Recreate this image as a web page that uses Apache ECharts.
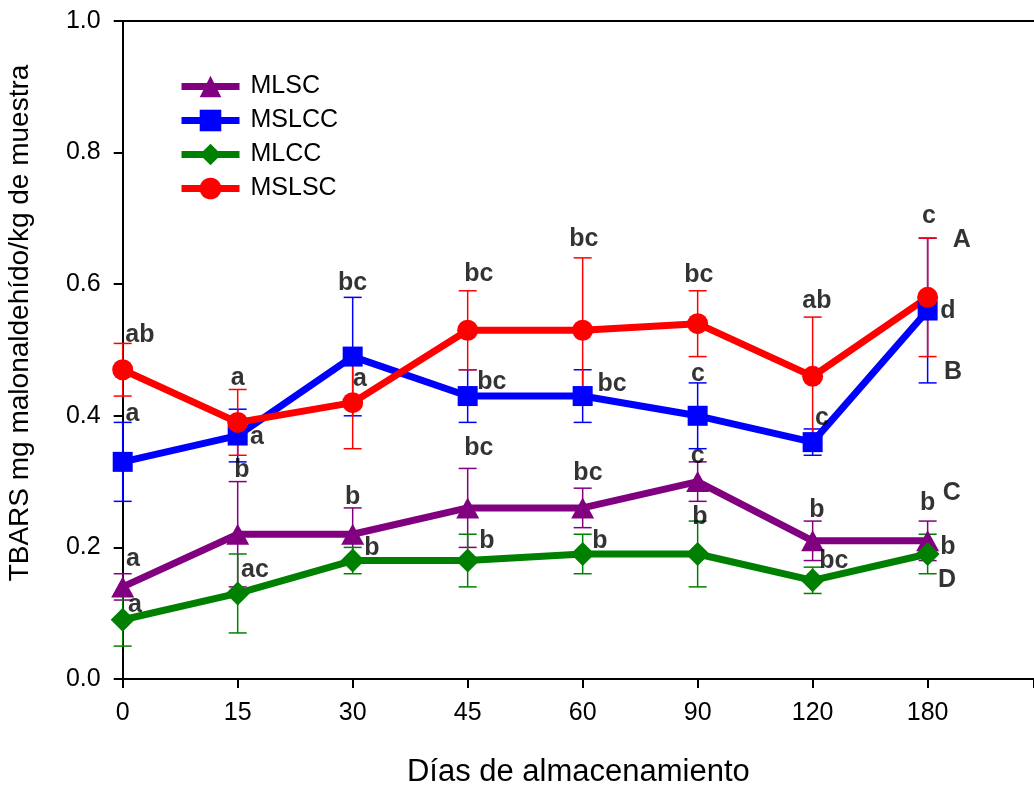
<!DOCTYPE html>
<html><head><meta charset="utf-8">
<script src="https://cdn.jsdelivr.net/npm/echarts@6/dist/echarts.min.js"></script>
<style>html,body{margin:0;padding:0;background:#fff}#c{width:1034px;height:785px}</style>
</head><body><div id="c"></div>
<script>
const days = ['0','15','30','45','60','90','120','180'];
const seriesNames = ['MLSC','MSLCC','MLCC','MSLSC'];
const mlsc     = [0.14,0.22,0.22,0.26,0.26,0.30,0.21,0.21];
const mlscErr  = [0.02,0.08,0.04,0.06,0.03,0.03,0.03,0.03];
const mslcc    = [0.33,0.37,0.49,0.43,0.43,0.40,0.36,0.56];
const mslccErr = [0.06,0.04,0.09,0.04,0.04,0.05,0.02,0.11];
const mlcc     = [0.09,0.13,0.18,0.18,0.19,0.19,0.15,0.19];
const mlccErr  = [0.04,0.06,0.02,0.04,0.03,0.05,0.02,0.03];
const mslsc    = [0.47,0.39,0.42,0.53,0.53,0.54,0.46,0.58];
const mslscErr = [0.04,0.05,0.07,0.06,0.11,0.05,0.09,0.09];
// significance letters: text, x (in day-index units), y (value units)
const letterText = ['ab','a','a','a','b','bc','a','b','b','a','a','ac','bc','bc','bc','b','bc','bc','bc','b','bc','c','c','b','ab','c','b','bc','c','A','d','B','C','b','b','D'];
const letterX = [0.15,0.085,1.0,1.168,1.037,2.0,2.063,2.0,2.168,0.09,0.107,1.15,3.098,3.211,3.098,3.168,4.011,4.255,4.046,4.15,5.011,5.003,5.0,5.02,6.037,6.081,6.037,6.185,7.011,7.298,7.177,7.22,7.211,7.0,7.177,7.168];
const letterY = [0.523,0.403,0.457,0.368,0.317,0.602,0.456,0.277,0.199,0.182,0.112,0.166,0.616,0.451,0.351,0.209,0.669,0.448,0.313,0.209,0.614,0.4635,0.339,0.246,0.574,0.397,0.257,0.179,0.703,0.667,0.5585,0.467,0.283,0.267,0.2006,0.150];
const xTitle = 'Días de almacenamiento';
const yTitle = 'TBARS mg malonaldehído/kg de muestra';

const FONT = 'Liberation Sans, Arial, sans-serif';
const colors = ['#800080','#0000FF','#008000','#FF0000'];
const symbols = ['triangle','rect','diamond','circle'];
const symSizes = [[23,21],20,[24,24],21];
const vals = [mlsc, mslcc, mlcc, mslsc];
const errs = [mlscErr, mslccErr, mlccErr, mslscErr];

function errSeries(i) {
  const color = colors[i];
  return {
    type:'custom', name: seriesNames[i] + ' err', z: 3, silent: true,
    data: vals[i].map((v,k)=>[k, v-errs[i][k], v+errs[i][k]]),
    encode:{x:0, y:[1,2]},
    renderItem(params, api){
      const lo = api.coord([api.value(0), api.value(1)]);
      const hi = api.coord([api.value(0), api.value(2)]);
      const w = 9, st = {stroke: color, lineWidth: 1.5};
      return {type:'group', children:[
        {type:'line', shape:{x1:lo[0],y1:lo[1],x2:hi[0],y2:hi[1]}, style:st},
        {type:'line', shape:{x1:lo[0]-w,y1:lo[1],x2:lo[0]+w,y2:lo[1]}, style:st},
        {type:'line', shape:{x1:hi[0]-w,y1:hi[1],x2:hi[0]+w,y2:hi[1]}, style:st}
      ]};
    }
  };
}
function lineSeries(i) {
  return {
    type:'line', name: seriesNames[i], z: 4,
    data: vals[i].map((v,k)=>[k, v]),
    symbol: symbols[i], symbolSize: symSizes[i], showAllSymbol: true,
    lineStyle:{color: colors[i], width: 7},
    itemStyle:{color: colors[i]},
    emphasis:{disabled:true}, animation:false
  };
}
const series = [];
for (let i=0;i<4;i++) series.push(errSeries(i));
for (let i=0;i<4;i++) series.push(lineSeries(i));
series.push({
  type:'scatter', name:'letters', z: 10, silent:true,
  data: letterText.map((t,k)=>[letterX[k], letterY[k]]),
  symbol:'circle', symbolSize:1, itemStyle:{color:'rgba(0,0,0,0)'},
  label:{show:true, position:'inside', formatter: p => letterText[p.dataIndex],
    color:'#000', textBorderWidth:0, fontWeight:'bold', fontSize:25, fontFamily: FONT}
});

const chart = echarts.init(document.getElementById('c'), null, {renderer:'canvas'});
chart.setOption({
  animation:false,
  backgroundColor:'#fff',
  grid:{left:122.7, right:0, top:21, bottom:106, containLabel:false, outerBoundsMode:'none'},
  legend:{data: seriesNames, orient:'vertical', left:178, top:74, itemWidth:58, itemHeight:27, itemGap:9, padding:0,
    lineStyle:{width:7},
    textStyle:{fontSize:25, color:'#000', fontFamily: FONT, padding:[0,0,0,6]}},
  graphic:[{type:'text', x:20, y:323, rotation: Math.PI/2,
    style:{text: yTitle, font: '28px ' + FONT, fill:'#000', textAlign:'center', textVerticalAlign:'middle'}}],
  xAxis:[{
    type:'value', min:0, max:7.925, interval:1,
    axisLine:{show:true, lineStyle:{color:'#000', width:2}},
    axisTick:{show:true, length:9, lineStyle:{color:'#000', width:2}},
    splitLine:{show:false},
    axisLabel:{fontSize:25, color:'#000', fontFamily: FONT, margin:22,
      formatter: v => (Number.isInteger(v) && v < days.length) ? days[v] : ''},
    name: xTitle, nameLocation:'middle', nameGap:78,
    nameTextStyle:{fontSize:31, color:'#000', fontFamily: FONT}
  },{
    type:'value', position:'top', min:0, max:7.925,
    axisLine:{show:true, lineStyle:{color:'#000', width:2}},
    axisTick:{show:false}, axisLabel:{show:false}, splitLine:{show:false}
  }],
  yAxis:{
    type:'value', min:0, max:1, interval:0.2,
    axisLine:{show:true, lineStyle:{color:'#000', width:2}},
    axisTick:{show:true, length:9, lineStyle:{color:'#000', width:2}},
    splitLine:{show:false},
    axisLabel:{fontSize:25, color:'#000', fontFamily: FONT, margin:22, formatter: v => v.toFixed(1)}
  },
  series: series
});
</script></body></html>
